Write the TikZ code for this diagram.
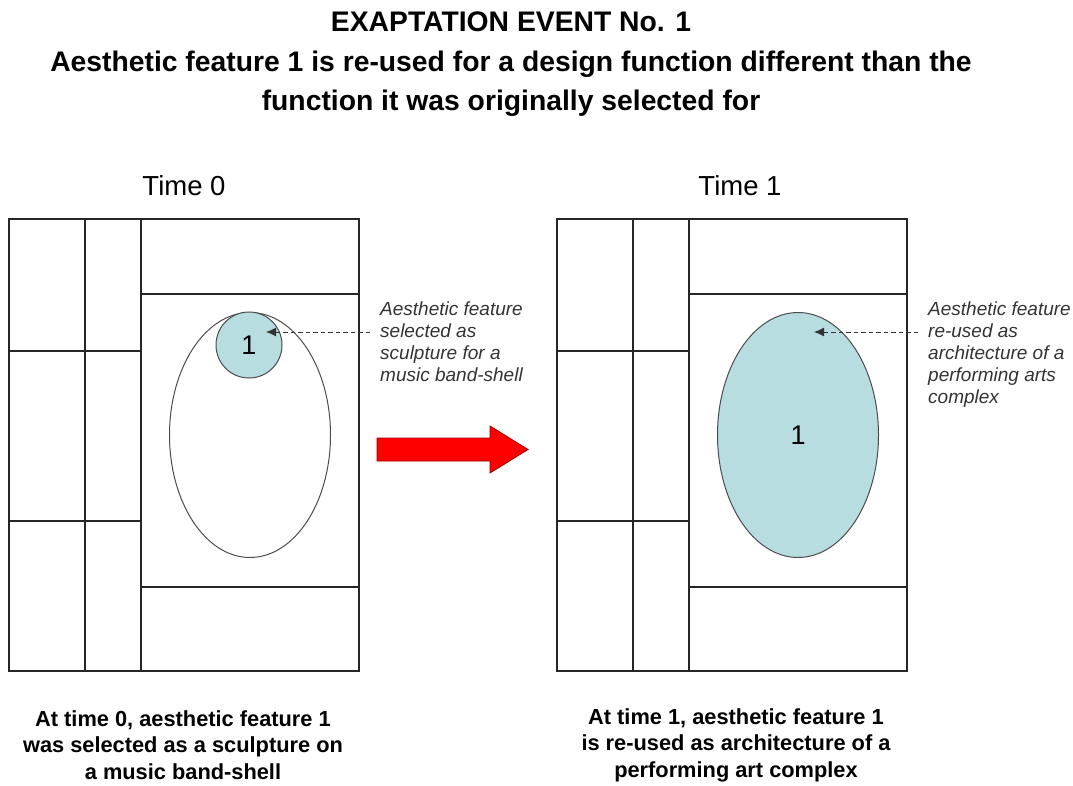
\documentclass[tikz,border=0pt]{standalone}
\usepackage{fontspec}
\setmainfont{Liberation Sans}
\usepackage{tikz}
\usetikzlibrary{shapes,shapes.geometric,arrows,arrows.meta,positioning}
\definecolor{featblue}{RGB}{183,221,224}
\tikzset{
  plan/.style={draw=black!85, line width=1.3pt},
  feat/.style={circle, draw=black!70, fill=featblue, line width=1pt, minimum size=66pt, inner sep=0pt, font=\fontsize{27}{30}\selectfont},
  hall/.style={ellipse, draw=black!70, line width=1pt, minimum width=161pt, minimum height=245pt, inner sep=0pt, font=\fontsize{27}{30}\selectfont},
  note/.style={align=left, anchor=north west, inner sep=0pt, text=black!80, font=\fontsize{19}{22}\selectfont\itshape},
  caption/.style={align=center, inner sep=0pt, font=\fontsize{21.8}{26.5}\selectfont\bfseries},
  heading/.style={inner sep=0pt, font=\fontsize{27.5}{30}\selectfont},
  pointer/.style={-{Latex[length=10pt,width=9pt]}, dash pattern=on 4.5pt off 3pt, draw=black!80, line width=1pt}
}

\begin{document}
\begin{tikzpicture}[x=1pt, y=-1pt]
	\useasboundingbox (0,0) rectangle (1073,786);
	% title
	\node[align=center, inner sep=0pt, font=\fontsize{28.3}{39.5}\selectfont\bfseries] (title) at (511,64.5)
		{EXAPTATION EVENT No. 1\\
		 Aesthetic feature 1 is re-used for a design function different than the\\
		 function it was originally selected for};
	% site plans
	\foreach \dx in {0,548} {
		\begin{scope}[xshift=\dx pt]
			\draw[plan] (9,219) rectangle (359,671);
			\draw[plan] (85,219) -- (85,671);
			\draw[plan] (141,219) -- (141,671);
			\draw[plan] (141,294) -- (359,294);
			\draw[plan] (141,587) -- (359,587);
			\draw[plan] (9,351) -- (141,351);
			\draw[plan] (9,521) -- (141,521);
		\end{scope}
	}
	\node[heading] (time0) at (184,186) {Time 0};
	\node[heading] (time1) at (740,186) {Time 1};
	% time 0
	\node[hall] (hall0) at (250,435) {};
	\node[feat] (feat0) at (249,345) {1};
	\node[note] (note0) at (380,302) {Aesthetic feature\\selected as\\sculpture for a\\music band-shell};
	\coordinate (tail0) at (370,332);
	\coordinate (tip0) at (266,332);
	\draw[pointer] (tail0) -- (tip0);
	% time 1
	\node[hall, fill=featblue] (feat1) at (798,435) {1};
	\node[note] (note1) at (928,302) {Aesthetic feature\\re-used as\\architecture of a\\performing arts\\complex};
	\coordinate (tail1) at (918,332);
	\coordinate (tip1) at (814,332);
	\draw[pointer] (tail1) -- (tip1);
	% change
	\draw[fill=red, draw=red!60!black, line width=0.8pt]
		(377,438) -- (490,438) -- (490,426) -- (528,449.5) -- (490,473) -- (490,461) -- (377,461) -- cycle;
	% captions
	\node[caption] (cap0) at (183,745) {At time 0, aesthetic feature 1\\was selected as a sculpture on\\a music band-shell};
	\node[caption] (cap1) at (736,745) {At time 1, aesthetic feature 1\\is re-used as architecture of a\\performing art complex};
\end{tikzpicture}
\end{document}
